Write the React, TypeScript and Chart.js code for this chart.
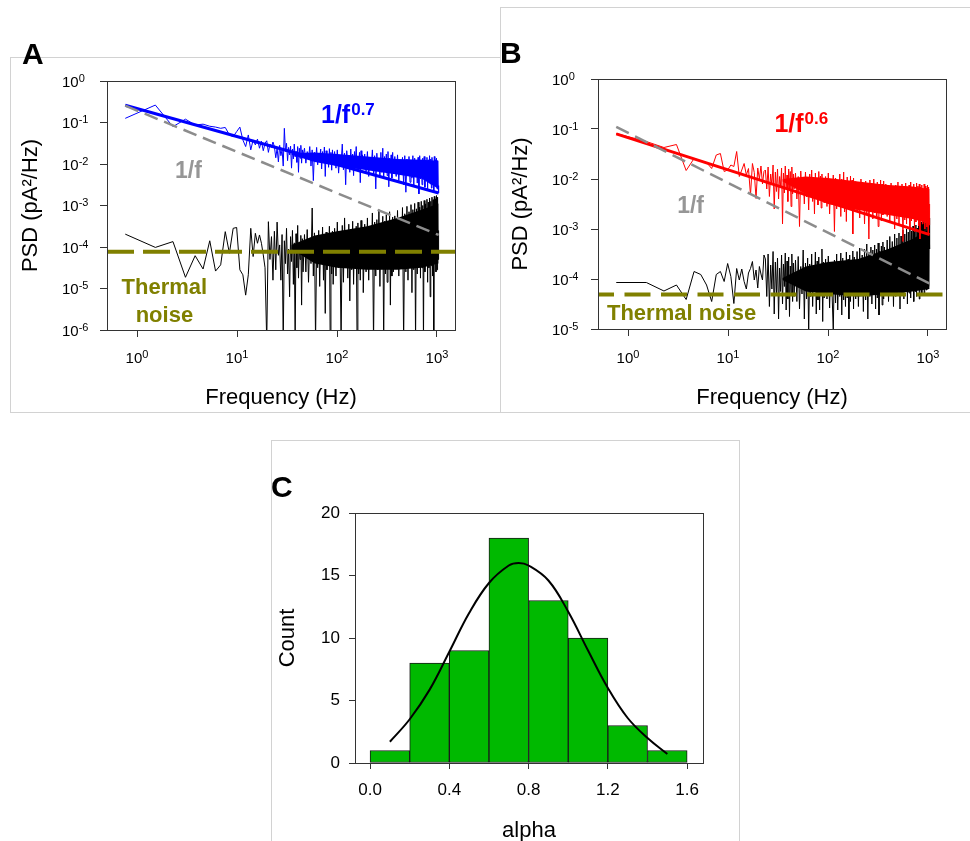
import React, { useEffect, useRef } from 'react';
import { Chart, registerables } from 'chart.js';

Chart.register(...registerables);

const FONT = 'Arial, "Liberation Sans", Helvetica, sans-serif';
const BLUE = '#0000ff';
const RED = '#ff0000';
const OLIVE = '#808000';
const GRAY_LINE = '#8c8c8c';
const GRAY_TEXT = '#969696';
const GREEN = '#00b900';
const AXIS = '#333333';

// ---------- frequency grid (FFT bins of 0.763 Hz; every bin at low f, thinned at high f) ----------
const DF_HZ = 0.763;
function binRange(first: number, last: number, step: number): number[] {
  const out: number[] = [];
  for (let k = first; k <= last; k += step) out.push(k);
  return out;
}
const binIndex: number[] = [
  ...binRange(1, 60, 1),
  ...binRange(62, 120, 2),
  ...binRange(124, 240, 4),
  ...binRange(248, 480, 8),
  ...binRange(496, 1360, 16),
];
const freqHz = binIndex.map((k) => k * DF_HZ);

// ---------- panel A: log10 PSD ----------
const blueLogPsdA = [
  -0.90, -0.58, -1.10, -0.92, -1.06, -1.04, -1.09, -1.11, -1.14, -1.12,
  -1.30, -1.34, -1.22, -1.11, -1.42, -1.58, -1.30, -1.66, -1.42, -1.54,
  -1.40, -1.62, -1.45, -1.68, -1.50, -1.44, -1.72, -1.52, -1.60, -1.47,
  -1.58, -1.85, -1.62, -1.95, -1.55, -1.80, -1.66, -2.05, -1.14, -1.70,
  -1.50, -1.92, -1.60, -1.78, -1.57, -2.10, -1.64, -1.88, -1.52, -1.83,
  -1.70, -1.96, -1.58, -2.20, -1.62, -1.86, -1.55, -1.98, -1.66, -1.80,
  -1.62, -1.98, -1.70, -1.88, -1.58, -2.05, -1.66, -2.40, -1.72, -1.92,
  -1.60, -2.02, -1.75, -1.86, -1.64, -2.12, -1.70, -1.95, -1.59, -2.30,
  -1.68, -1.90, -1.76, -2.08, -1.63, -1.96, -1.72, -2.15, -1.66, -2.00,
  -1.70, -2.10, -1.66, -2.22, -1.78, -1.98, -1.52, -2.14, -1.74, -2.50,
  -1.68, -2.04, -1.80, -2.20, -1.64, -2.08, -1.76, -2.28, -1.70, -1.96,
  -1.58, -2.16, -1.82, -2.02, -1.72, -2.45, -1.68, -2.12, -1.78, -2.06,
  -1.76, -2.18, -1.70, -2.30, -1.84, -2.08, -1.66, -2.26, -1.80, -2.60,
  -1.74, -2.14, -1.88, -2.32, -1.72, -2.20, -1.62, -2.36, -1.82, -2.10,
  -1.76, -2.28, -1.70, -2.55, -1.86, -2.16, -1.78, -2.34, -1.72, -2.22,
  -1.82, -2.30, -1.78, -2.40, -1.90, -2.22, -1.84, -2.50, -1.80, -2.68,
  -1.88, -2.28, -1.82, -2.44, -1.94, -2.34, -1.80, -2.52, -1.86, -2.26,
  -1.92, -2.46, -1.84, -2.72, -1.80, -2.36, -1.90, -2.50, -1.86, -2.30,
  -1.82, -2.56, -1.96, -2.40, -1.84, -2.62, -1.90, -2.34, -1.80, -2.48,
  -1.88, -2.58, -1.84, -2.42, -1.94, -2.66, -1.82, -2.50, -1.90, -2.38,
  -1.86, -2.60, -1.92, -2.52, -2.70,
];

const blackLogPsdA = [
  -3.69, -4.01, -3.87, -4.73, -4.21, -4.53, -3.85, -4.58, -4.43, -3.63,
  -4.15, -3.55, -3.53, -4.55, -4.67, -5.16, -4.67, -3.55, -4.23, -3.67,
  -3.91, -3.71, -3.91, -4.19, -4.50, -6.30, -3.39, -4.30, -3.75, -4.80,
  -3.62, -4.55, -3.40, -4.20, -3.95, -4.80, -3.70, -6.30, -3.85, -4.40,
  -3.55, -4.65, -4.05, -5.20, -3.75, -4.35, -3.60, -4.90, -3.90, -6.30,
  -3.68, -4.50, -3.48, -4.75, -4.00, -4.30, -3.72, -5.40, -3.80, -4.60,
  -3.70, -4.60, -3.58, -4.85, -3.80, -4.40, -3.06, -4.70, -3.66, -6.30,
  -3.92, -4.50, -3.60, -4.95, -3.74, -4.35, -3.52, -4.80, -3.86, -5.60,
  -3.64, -4.55, -3.70, -4.40, -3.50, -6.30, -3.78, -4.65, -3.62, -4.90,
  -3.55, -4.70, -3.40, -4.50, -3.68, -6.30, -3.48, -4.85, -3.30, -4.45,
  -3.60, -4.75, -3.45, -5.30, -3.72, -4.55, -3.38, -4.90, -3.58, -4.40,
  -3.50, -6.30, -3.42, -4.65, -3.64, -4.80, -3.36, -4.50, -3.54, -5.10,
  -3.45, -4.60, -3.30, -4.80, -3.52, -4.40, -3.18, -6.30, -3.40, -4.70,
  -3.34, -4.55, -3.10, -4.95, -3.48, -4.45, -3.26, -6.30, -3.38, -4.65,
  -3.22, -4.85, -3.44, -4.50, -3.15, -5.40, -3.36, -4.70, -3.28, -4.60,
  -3.25, -4.50, -3.12, -4.70, -3.30, -4.40, -3.05, -6.30, -3.20, -4.60,
  -3.02, -4.80, -3.15, -4.45, -2.98, -5.10, -3.10, -4.55, -2.95, -6.30,
  -3.08, -4.65, -2.92, -4.40, -3.04, -4.75, -2.90, -4.50, -3.00, -6.30,
  -2.88, -4.60, -2.96, -4.35, -2.85, -4.85, -2.92, -4.50, -2.82, -5.20,
  -2.90, -4.45, -2.80, -4.70, -2.86, -6.30, -2.78, -4.40, -2.84, -4.60,
  -2.76, -4.55, -2.80, -4.30, -3.60,
];

// ---------- panel B ----------
const redLogPsdB = [
  -1.09, -1.25, -1.37, -1.31, -1.83, -1.59, -1.64, -1.67, -1.79, -1.52,
  -1.49, -1.85, -1.82, -1.72, -1.75, -1.45, -1.95, -1.82, -1.69, -1.92,
  -1.79, -2.32, -1.69, -1.87, -2.39, -1.78, -2.00, -1.74, -2.10, -1.85,
  -1.82, -2.20, -1.76, -2.35, -1.90, -2.12, -1.72, -2.60, -1.86, -2.25,
  -1.80, -2.40, -1.95, -2.15, -1.78, -2.90, -1.88, -2.28, -1.74, -2.18,
  -1.92, -2.45, -1.80, -2.22, -1.85, -2.55, -1.76, -2.30, -1.90, -2.20,
  -1.88, -2.40, -1.95, -2.95, -1.84, -2.30, -1.98, -2.50, -1.86, -2.36,
  -2.02, -2.62, -1.90, -2.28, -1.82, -2.45, -1.96, -2.70, -1.88, -2.34,
  -2.00, -2.52, -1.85, -2.40, -1.94, -2.58, -1.90, -2.32, -2.04, -2.48,
  -1.95, -2.55, -1.88, -2.70, -2.02, -2.45, -1.92, -3.05, -1.98, -2.60,
  -2.06, -2.50, -1.90, -2.75, -2.00, -2.42, -1.86, -2.66, -2.04, -2.85,
  -1.96, -2.52, -2.08, -2.62, -1.94, -2.48, -2.02, -3.10, -1.98, -2.58,
  -2.05, -2.65, -2.12, -2.78, -2.00, -2.60, -2.10, -2.90, -2.04, -2.70,
  -2.15, -3.20, -2.02, -2.62, -2.08, -2.80, -2.00, -2.68, -2.12, -2.74,
  -2.06, -2.95, -2.14, -2.66, -2.02, -2.84, -2.10, -2.72, -2.04, -2.64,
  -2.10, -2.75, -2.16, -2.88, -2.08, -2.70, -2.20, -3.00, -2.12, -2.80,
  -2.06, -2.92, -2.18, -2.74, -2.10, -3.25, -2.14, -2.82, -2.08, -2.90,
  -2.20, -2.76, -2.12, -2.98, -2.06, -2.84, -2.16, -2.72, -2.10, -3.05,
  -2.18, -2.86, -2.08, -2.78, -2.14, -2.94, -2.10, -3.20, -2.16, -2.80,
  -2.12, -2.90, -2.20, -2.84, -2.10, -3.00, -2.14, -2.88, -2.18, -2.96,
  -2.12, -3.10, -2.16, -2.92, -2.50,
];

const blackLogPsdB = [
  -4.07, -4.07, -4.24, -4.12, -4.41, -3.85, -3.91, -4.12, -4.45, -3.91,
  -3.85, -4.05, -3.69, -3.95, -4.49, -3.79, -4.02, -3.80, -4.05, -4.20,
  -3.88, -3.79, -3.65, -4.02, -3.82, -4.18, -3.75, -3.90, -4.02, -3.52,
  -3.60, -4.35, -3.50, -4.55, -3.72, -4.20, -3.45, -4.70, -3.66, -4.30,
  -3.58, -4.80, -3.78, -4.25, -3.52, -4.50, -3.70, -4.15, -3.48, -4.62,
  -3.64, -4.40, -3.56, -4.75, -3.74, -4.28, -3.50, -4.45, -3.68, -4.35,
  -3.62, -4.45, -3.55, -4.60, -3.75, -4.30, -3.42, -4.80, -3.68, -4.40,
  -3.58, -5.10, -3.70, -4.35, -3.50, -4.55, -3.80, -4.25, -3.46, -4.70,
  -3.64, -4.42, -3.56, -4.62, -3.72, -4.30, -3.40, -4.85, -3.66, -4.38,
  -3.60, -4.40, -3.54, -4.58, -3.70, -4.30, -5.05, -3.62, -4.48, -3.50,
  -4.62, -3.66, -4.35, -3.48, -4.72, -3.58, -4.42, -3.64, -4.55, -3.46,
  -4.38, -3.60, -4.80, -3.52, -4.45, -3.68, -4.32, -3.44, -4.60, -3.56,
  -4.40, -3.45, -4.55, -3.38, -4.30, -3.52, -4.65, -3.40, -4.42, -3.30,
  -4.80, -3.46, -4.35, -3.36, -4.50, -3.42, -4.28, -3.32, -4.60, -3.40,
  -4.38, -3.28, -4.72, -3.44, -4.30, -3.34, -4.52, -3.26, -4.40, -3.36,
  -4.30, -3.22, -4.45, -3.15, -4.20, -3.25, -4.55, -3.10, -4.35, -3.18,
  -4.25, -3.08, -4.60, -3.14, -4.30, -3.02, -4.40, -3.10, -4.22, -3.00,
  -4.50, -3.06, -4.28, -2.96, -4.38, -3.04, -4.18, -2.94, -4.45, -3.00,
  -4.25, -2.92, -4.35, -2.98, -4.15, -2.88, -4.40, -2.95, -4.20, -2.86,
  -4.32, -2.90, -4.10, -2.84, -4.28, -2.80, -4.05, -2.88, -4.22, -2.75,
  -4.00, -2.82, -4.15, -2.78, -3.40,
];

// ---------- solid core of the dense high-frequency noise (log10 PSD) ----------
const coreFreqHz = [35, 60, 100, 200, 400, 700, 1038];
const blueCoreHiA = [-1.74, -1.72, -1.76, -1.82, -1.88, -1.90, -1.92];
const blueCoreLoA = [-1.78, -1.95, -2.05, -2.15, -2.25, -2.35, -2.60];
const blackCoreHiA = [-3.95, -3.72, -3.62, -3.50, -3.30, -3.10, -2.95];
const blackCoreLoA = [-4.05, -4.40, -4.50, -4.55, -4.55, -4.50, -4.40];
const redCoreHiB = [-2.00, -1.95, -1.98, -2.05, -2.12, -2.15, -2.20];
const redCoreLoB = [-2.05, -2.30, -2.50, -2.62, -2.72, -2.80, -2.90];
const blackCoreHiB = [-3.98, -3.75, -3.66, -3.60, -3.40, -3.20, -3.00];
const blackCoreLoB = [-4.02, -4.25, -4.30, -4.35, -4.30, -4.25, -4.20];

// ---------- fitted / reference lines ----------
const fitFreqHz = [0.763, 1038];
const fitPsdA = [0.26, 0.002];
const oneOverFPsdA = [0.254, 0.000195];
const fitPsdB = [0.08, 0.00077];
const oneOverFPsdB = [0.11, 0.000081];
const thermalPsdA = 7.7e-5;
const thermalPsdB = 4.9e-5;

// ---------- axes ----------
const FREQ_MIN = 10 ** -0.3;
const FREQ_MAX = 10 ** 3.18;
const freqDecades = [0, 1, 2, 3];
const psdDecadesA = [-6, -5, -4, -3, -2, -1, 0];
const psdDecadesB = [-5, -4, -3, -2, -1, 0];

// ---------- panel C: histogram of alpha ----------
const alphaBinCenters = [0.1, 0.3, 0.5, 0.7, 0.9, 1.1, 1.3, 1.5];
const alphaCounts = [1, 8, 9, 18, 13, 10, 3, 1];
const gaussAlpha = [0.1, 0.2, 0.3, 0.4, 0.5, 0.6, 0.7, 0.75, 0.8, 0.9, 1.0, 1.1, 1.2, 1.3, 1.4, 1.5];
const gaussCount = [1.7, 3.5, 5.85, 8.9, 12.0, 14.4, 15.8, 16.0, 15.8, 14.6, 12.1, 9.0, 6.0, 3.6, 2.0, 0.72];
const alphaTicks = [0, 0.4, 0.8, 1.2, 1.6];
const countTicks = [0, 5, 10, 15, 20];

// ---------- helpers ----------
const pairs = (xs: number[], ys: number[]) => xs.map((x, i) => ({ x, y: ys[i] }));
const logPairs = (xs: number[], logs: number[]) => xs.map((x, i) => ({ x, y: 10 ** logs[i] }));
const logSeries = (logs: number[]) => logPairs(freqHz, logs);

function lineDs(data: any[], color: string, width: number, order: number, dash: number[] = [], dashOffset = 0) {
  return {
    data,
    borderColor: color,
    backgroundColor: color,
    borderWidth: width,
    borderDash: dash,
    borderDashOffset: dashOffset,
    borderJoinStyle: 'bevel',
    borderCapStyle: 'butt',
    order,
    showLine: true,
    pointRadius: 0,
    pointHoverRadius: 0,
    fill: false,
    tension: 0,
  };
}

function bandDs(data: any[], color: string, order: number, fillToNext: boolean) {
  return {
    data,
    borderColor: 'rgba(0,0,0,0)',
    backgroundColor: color,
    borderWidth: 0,
    order,
    showLine: true,
    pointRadius: 0,
    pointHoverRadius: 0,
    fill: fillToNext ? '+1' : false,
    tension: 0,
  };
}

function powLabel(ctx: CanvasRenderingContext2D, x: number, baseline: number, exp: number, align: 'left' | 'center') {
  const base = '10';
  const es = String(exp);
  ctx.font = `15px ${FONT}`;
  const wb = ctx.measureText(base).width;
  ctx.font = `11px ${FONT}`;
  const we = ctx.measureText(es).width;
  const x0 = align === 'center' ? x - (wb + we) / 2 : x;
  ctx.textAlign = 'left';
  ctx.font = `15px ${FONT}`;
  ctx.fillText(base, x0, baseline);
  ctx.font = `11px ${FONT}`;
  ctx.fillText(es, x0 + wb, baseline - 5);
}

type Note = {
  text: string; sup?: string; f: number; psd: number; color: string;
  size: number; supSize?: number; rise?: number; align?: 'left' | 'center';
};

type PsdSpec = {
  yDecades: number[]; padTop: number; padRight: number; yWidth: number; xHeight: number;
  xLabelDy: number; yLabelDx: number; notes: Note[];
  trace: number[]; noise: number[]; color: string;
  traceCore: [number[], number[]]; noiseCore: [number[], number[]];
  fit: number[]; oneOverF: number[]; thermal: number; thermalDash: number[]; thermalDashOffset: number;
};

function psdDecor(spec: PsdSpec) {
  return {
    id: 'psdDecor',
    afterDraw(chart: any) {
      const { ctx, chartArea: a } = chart;
      const xs = chart.scales.x;
      const ys = chart.scales.y;
      ctx.save();
      ctx.strokeStyle = AXIS;
      ctx.lineWidth = 1;
      const l = Math.round(a.left), t = Math.round(a.top), r = Math.round(a.right), b = Math.round(a.bottom);
      ctx.strokeRect(l + 0.5, t + 0.5, r - l, b - t);
      ctx.fillStyle = '#000';
      ctx.textBaseline = 'alphabetic';
      for (const e of freqDecades) powLabel(ctx, xs.getPixelForValue(10 ** e), a.bottom + spec.xLabelDy, e, 'center');
      for (const e of spec.yDecades) powLabel(ctx, a.left - spec.yLabelDx, ys.getPixelForValue(10 ** e) + 5.5, e, 'left');
      for (const n of spec.notes) {
        const px = xs.getPixelForValue(n.f);
        const py = ys.getPixelForValue(n.psd);
        ctx.font = `bold ${n.size}px ${FONT}`;
        const w = ctx.measureText(n.text).width;
        let sw = 0;
        if (n.sup) {
          ctx.font = `bold ${n.supSize}px ${FONT}`;
          sw = ctx.measureText(n.sup).width + 1;
        }
        const x0 = n.align === 'center' ? px - (w + sw) / 2 : px;
        ctx.fillStyle = n.color;
        ctx.textAlign = 'left';
        ctx.font = `bold ${n.size}px ${FONT}`;
        ctx.fillText(n.text, x0, py);
        if (n.sup) {
          ctx.font = `bold ${n.supSize}px ${FONT}`;
          ctx.fillText(n.sup, x0 + w + 1, py - (n.rise || 8));
        }
      }
      ctx.restore();
    },
  };
}

function psdConfig(spec: PsdSpec): any {
  const tickGrid = { display: true, drawOnChartArea: false, drawTicks: true, tickLength: 7, color: AXIS, lineWidth: 1 };
  return {
    type: 'scatter',
    data: {
      datasets: [
        lineDs(pairs([FREQ_MIN, FREQ_MAX], [spec.thermal, spec.thermal]), OLIVE, 4, 0, spec.thermalDash, spec.thermalDashOffset),
        lineDs(pairs(fitFreqHz, spec.oneOverF), GRAY_LINE, 2.5, 1, [14, 7]),
        lineDs(pairs(fitFreqHz, spec.fit), spec.color, 3, 2),
        lineDs(logSeries(spec.trace), spec.color, 1, 3),
        bandDs(logPairs(coreFreqHz, spec.traceCore[0]), spec.color, 4, true),
        bandDs(logPairs(coreFreqHz, spec.traceCore[1]), spec.color, 4.1, false),
        lineDs(logSeries(spec.noise), '#000000', 1, 5),
        bandDs(logPairs(coreFreqHz, spec.noiseCore[0]), '#000000', 6, true),
        bandDs(logPairs(coreFreqHz, spec.noiseCore[1]), '#000000', 6.1, false),
      ],
    },
    options: {
      animation: false,
      responsive: false,
      maintainAspectRatio: false,
      events: [],
      layout: { padding: { left: 0, top: spec.padTop, right: spec.padRight, bottom: 0 } },
      plugins: { legend: { display: false }, tooltip: { enabled: false } },
      scales: {
        x: {
          type: 'logarithmic',
          min: FREQ_MIN,
          max: FREQ_MAX,
          afterBuildTicks: (s: any) => { s.ticks = freqDecades.map((e) => ({ value: 10 ** e })); },
          afterFit: (s: any) => { s.height = spec.xHeight; },
          ticks: { display: false },
          grid: tickGrid,
          border: { display: true, color: AXIS, width: 1 },
          title: {
            display: true, text: 'Frequency (Hz)', color: '#000',
            font: { family: FONT, size: 22 }, padding: { top: 0, bottom: 1.2 },
          },
        },
        y: {
          type: 'logarithmic',
          min: 10 ** spec.yDecades[0],
          max: 1,
          afterBuildTicks: (s: any) => { s.ticks = spec.yDecades.map((e) => ({ value: 10 ** e })); },
          afterFit: (s: any) => { s.width = spec.yWidth; },
          ticks: { display: false },
          grid: tickGrid,
          border: { display: true, color: AXIS, width: 1 },
          title: {
            display: true, text: 'PSD (pA²/Hz)', color: '#000',
            font: { family: FONT, size: 22 }, padding: { top: 6.8, bottom: 0 },
          },
        },
      },
    },
    plugins: [psdDecor(spec)],
  };
}

const specA: PsdSpec = {
  yDecades: psdDecadesA, padTop: 23, padRight: 46, yWidth: 96, xHeight: 82,
  xLabelDy: 33, yLabelDx: 45,
  trace: blueLogPsdA, noise: blackLogPsdA, color: BLUE,
  traceCore: [blueCoreHiA, blueCoreLoA], noiseCore: [blackCoreHiA, blackCoreLoA],
  fit: fitPsdA, oneOverF: oneOverFPsdA, thermal: thermalPsdA, thermalDash: [27, 9], thermalDashOffset: 0,
  notes: [
    { text: '1/f', sup: '0.7', f: 69.2, psd: 0.0973, color: BLUE, size: 25, supSize: 17, rise: 8 },
    { text: '1/f', f: 2.4, psd: 0.0046, color: GRAY_TEXT, size: 23 },
    { text: 'Thermal', f: 1.88, psd: 7.4e-6, color: OLIVE, size: 22, align: 'center' },
    { text: 'noise', f: 1.88, psd: 1.56e-6, color: OLIVE, size: 22, align: 'center' },
  ],
};

const specB: PsdSpec = {
  yDecades: psdDecadesB, padTop: 72, padRight: 24, yWidth: 97, xHeight: 83,
  xLabelDy: 34, yLabelDx: 46,
  trace: redLogPsdB, noise: blackLogPsdB, color: RED,
  traceCore: [redCoreHiB, redCoreLoB], noiseCore: [blackCoreHiB, blackCoreLoB],
  fit: fitPsdB, oneOverF: oneOverFPsdB, thermal: thermalPsdB, thermalDash: [26, 10.5], thermalDashOffset: 10,
  notes: [
    { text: '1/f', sup: '0.6', f: 29.1, psd: 0.0883, color: RED, size: 25, supSize: 17, rise: 8 },
    { text: '1/f', f: 3.1, psd: 0.00209, color: GRAY_TEXT, size: 23 },
    { text: 'Thermal noise', f: 0.616, psd: 1.51e-5, color: OLIVE, size: 22 },
  ],
};

const boxDecor = {
  id: 'boxDecor',
  afterDraw(chart: any) {
    const { ctx, chartArea: a } = chart;
    ctx.save();
    ctx.strokeStyle = AXIS;
    ctx.lineWidth = 1;
    const l = Math.round(a.left), t = Math.round(a.top), r = Math.round(a.right), b = Math.round(a.bottom);
    ctx.strokeRect(l + 0.5, t + 0.5, r - l, b - t);
    ctx.restore();
  },
};

function histConfig(): any {
  const tickGrid = { display: true, drawOnChartArea: false, drawTicks: true, tickLength: 6, color: AXIS, lineWidth: 1, offset: false };
  return {
    type: 'bar',
    data: {
      datasets: [
        {
          type: 'line',
          data: pairs(gaussAlpha, gaussCount),
          borderColor: '#000',
          borderWidth: 2,
          pointRadius: 0,
          tension: 0.4,
          fill: false,
          order: 0,
        },
        {
          type: 'bar',
          data: pairs(alphaBinCenters, alphaCounts),
          backgroundColor: GREEN,
          borderColor: '#1a1a1a',
          borderWidth: 1,
          borderSkipped: false,
          barPercentage: 1,
          categoryPercentage: 1,
          order: 1,
        },
      ],
    },
    options: {
      animation: false,
      responsive: false,
      maintainAspectRatio: false,
      events: [],
      layout: { padding: { left: 0, top: 72, right: 36, bottom: 0 } },
      plugins: { legend: { display: false }, tooltip: { enabled: false } },
      scales: {
        x: {
          type: 'linear',
          offset: false,
          min: -0.076,
          max: 1.68,
          afterBuildTicks: (s: any) => { s.ticks = alphaTicks.map((v) => ({ value: v })); },
          afterFit: (s: any) => { s.height = 81; },
          ticks: {
            color: '#000', font: { family: FONT, size: 17 }, padding: 11, autoSkip: false, maxRotation: 0,
            callback: (v: any) => Number(v).toFixed(1),
          },
          grid: tickGrid,
          border: { display: true, color: AXIS, width: 1 },
          title: { display: true, text: 'alpha', color: '#000', font: { family: FONT, size: 22 }, padding: { top: 0, bottom: 0 } },
        },
        y: {
          type: 'linear',
          min: 0,
          max: 20,
          afterBuildTicks: (s: any) => { s.ticks = countTicks.map((v) => ({ value: v })); },
          afterFit: (s: any) => { s.width = 83; },
          ticks: { color: '#000', font: { family: FONT, size: 17 }, padding: 9, autoSkip: false },
          grid: tickGrid,
          border: { display: true, color: AXIS, width: 1 },
          title: { display: true, text: 'Count', color: '#000', font: { family: FONT, size: 22 }, padding: { top: 2.8, bottom: 0 } },
        },
      },
    },
    plugins: [boxDecor],
  };
}

function ChartCanvas(props: { left: number; top: number; width: number; height: number; make: () => any }) {
  const ref = useRef<HTMLCanvasElement>(null);
  useEffect(() => {
    const chart = new Chart(ref.current as HTMLCanvasElement, props.make());
    return () => chart.destroy();
  }, []);
  return (
    <canvas
      ref={ref}
      width={props.width}
      height={props.height}
      style={{ position: 'absolute', left: props.left, top: props.top, width: props.width, height: props.height }}
    />
  );
}

function Frame(props: { left: number; top: number; width: number; height: number }) {
  return (
    <div
      style={{
        position: 'absolute', left: props.left, top: props.top, width: props.width, height: props.height,
        border: '1px solid #d2d2d2', boxSizing: 'border-box',
      }}
    />
  );
}

function Letter(props: { text: string; left: number; top: number }) {
  return (
    <div
      style={{
        position: 'absolute', left: props.left, top: props.top, fontFamily: FONT, fontWeight: 'bold',
        fontSize: 30, lineHeight: '30px', color: '#000',
      }}
    >
      {props.text}
    </div>
  );
}

export default function App() {
  return (
    <div style={{ position: 'absolute', left: 0, top: 0, width: 970, height: 841, overflow: 'hidden', background: '#fff' }}>
      <Frame left={10} top={57} width={491} height={356} />
      <Frame left={500} top={7} width={490} height={406} />
      <Frame left={271} top={440} width={469} height={420} />
      <ChartCanvas left={11} top={58} width={490} height={354} make={() => psdConfig(specA)} />
      <ChartCanvas left={501} top={7} width={469} height={405} make={() => psdConfig(specB)} />
      <ChartCanvas left={272} top={441} width={467} height={403} make={histConfig} />
      <Letter text="A" left={22} top={39} />
      <Letter text="B" left={500} top={38} />
      <Letter text="C" left={271} top={472} />
    </div>
  );
}
